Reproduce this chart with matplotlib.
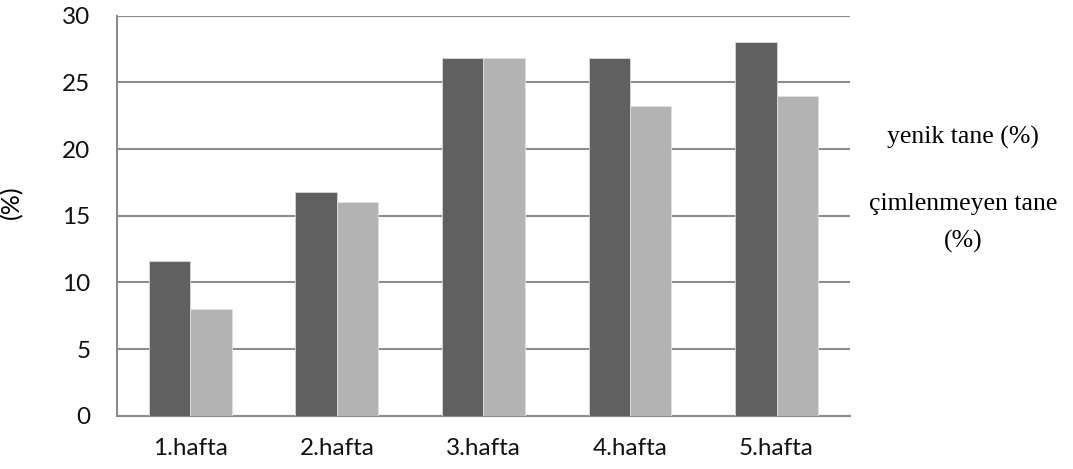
import numpy as np
import matplotlib.pyplot as plt

# weekly values (%)
weeks = ["1.hafta", "2.hafta", "3.hafta", "4.hafta", "5.hafta"]
yenik = [11.6, 16.8, 26.8, 26.8, 28.0]
cimlenmeyen = [8.0, 16.0, 26.8, 23.2, 24.0]
series_names = ["yenik tane (%)", "çimlenmeyen tane\n(%)"]

fig = plt.figure(figsize=(10.73, 4.69), dpi=100)
ax = fig.add_axes([0.109, 0.1137, 0.683, 0.8528])

x = np.arange(len(weeks))
w = 0.282
ax.bar(x - w / 2, yenik, w, color="#606060", edgecolor="#d8d8d8", linewidth=0.6,
       label=series_names[0], zorder=3)
ax.bar(x + w / 2, cimlenmeyen, w, color="#b3b3b3", edgecolor="#e0e0e0", linewidth=0.6,
       label=series_names[1], zorder=3)

ax.set_xlim(-0.5, len(weeks) - 0.5)
ax.set_ylim(0, 30)
ax.set_yticks(np.arange(0, 31, 5))
ax.set_xticks(x)
ax.set_xticklabels(weeks)
ax.yaxis.grid(True, color="#8c8c8c", linewidth=1.5, zorder=0)
ax.set_axisbelow(True)

for s in ["top", "right"]:
    ax.spines[s].set_visible(False)
for s in ["left", "bottom"]:
    ax.spines[s].set_color("#8c8c8c")
    ax.spines[s].set_linewidth(1.5)

ax.tick_params(axis="both", length=0, labelsize=17.5, labelcolor="#111111")
ax.tick_params(axis="y", pad=19)
ax.tick_params(axis="x", pad=16)
for lbl in ax.get_xticklabels() + ax.get_yticklabels():
    lbl.set_fontfamily("Lato")

ax.set_ylabel("(%)", fontsize=18, family="Lato")
ax.yaxis.set_label_coords(-0.128, 0.535)

# series names at the right, without colour keys
fig.text(963 / 1073, 1 - 137 / 469, series_names[0], ha="center", va="center",
         family="Liberation Serif", fontsize=18.5)
fig.text(963 / 1073, 1 - 223 / 469, series_names[1], ha="center", va="center",
         family="Liberation Serif", fontsize=18.5, multialignment="center",
         linespacing=1.9)

fig.savefig("out.png", dpi=100)
